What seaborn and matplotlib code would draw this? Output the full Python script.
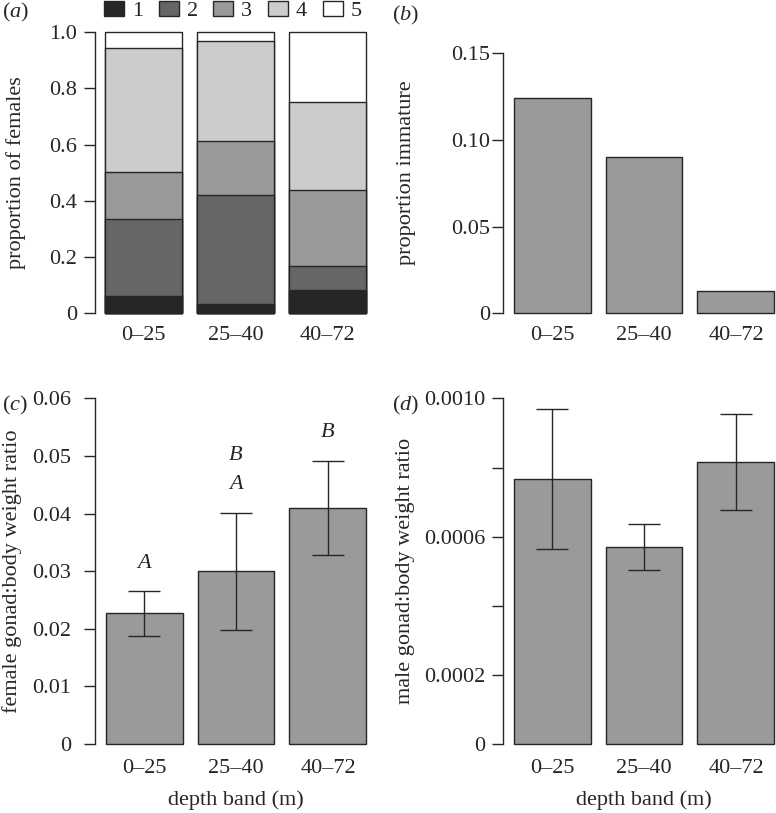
import numpy as np
import pandas as pd
import matplotlib
matplotlib.use('Agg')
import matplotlib.pyplot as plt
import seaborn as sns
from matplotlib.patches import Patch

sns.set_style('ticks')
plt.rcParams['font.family'] = ['Liberation Serif', 'DejaVu Serif']
plt.rcParams['mathtext.fontset'] = 'custom'
plt.rcParams['mathtext.rm'] = 'Liberation Serif'
plt.rcParams['mathtext.it'] = 'Liberation Serif:italic'
FS = 16
plt.rcParams['font.size'] = FS

# Data
depth_bands = ['0–25', '25–40', '40–72']

# (a) maturity stage proportions of females (stage 1 at bottom)
stage_labels = ['1', '2', '3', '4', '5']
stage1 = [0.062, 0.033, 0.083]
stage2 = [0.274, 0.388, 0.084]
stage3 = [0.167, 0.191, 0.272]
stage4 = [0.442, 0.356, 0.311]
stage5 = [0.055, 0.032, 0.250]
stage_colors = ['#262626', '#666666', '#999999', '#cccccc', '#ffffff']

# (b) proportion immature
prop_immature = [0.124, 0.090, 0.013]

# (c) female gonad:body weight ratio
female_ratio = [0.0227, 0.0300, 0.0410]
female_lo = [0.0188, 0.0198, 0.0328]
female_hi = [0.0265, 0.0401, 0.0492]
female_letters = [['A'], ['A', 'B'], ['B']]

# (d) male gonad:body weight ratio
male_ratio = [0.000766, 0.000571, 0.000817]
male_lo = [0.000563, 0.000504, 0.000678]
male_hi = [0.000969, 0.000637, 0.000955]

bar_grey = '#9a9a9a'
edge = '#262626'
bw = 0.837
W, H = 776, 813

fig = plt.figure(figsize=(W / 100, H / 100), dpi=100)


def make_ax(left_px, top_px, right_px, bottom_px):
    return fig.add_axes([left_px / W, 1 - bottom_px / H,
                         (right_px - left_px) / W, (bottom_px - top_px) / H])


ax_a = make_ax(94.5, 21, 376.5, 324.5)
ax_b = make_ax(503, 21, 785, 324.5)
ax_c = make_ax(95, 384.6, 377, 757.8)
ax_d = make_ax(503, 384.6, 785, 757.8)


def style(ax, ylim, ticks, labels, ypad, ylabel, label_x):
    ax.set_xlim(-0.533, 2.533)
    ax.set_ylim(*ylim)
    ax.set_yticks(ticks)
    ax.set_yticklabels(labels)
    sns.despine(ax=ax, bottom=True)
    ax.spines['left'].set_bounds(ticks[0], ticks[-1])
    ax.spines['left'].set_color(edge)
    ax.spines['left'].set_linewidth(1)
    ax.tick_params(axis='y', length=8, width=1, pad=ypad, color=edge, labelsize=FS)
    ax.tick_params(axis='x', length=0, pad=1, labelsize=FS)
    ax.set_xlabel('')
    ax.set_ylabel(ylabel, va='center', fontsize=FS)
    ax.yaxis.set_label_coords(label_x, 0.5)


# (a) stacked bars: draw cumulative totals from top down
stages = [stage1, stage2, stage3, stage4, stage5]
cum = np.cumsum(np.array(stages), axis=0)
for i in range(len(stages) - 1, -1, -1):
    sns.barplot(x=depth_bands, y=cum[i], color=stage_colors[i], saturation=1,
                edgecolor=edge, linewidth=1, width=bw, ax=ax_a)
style(ax_a, (-0.04, 1.04), [0, 0.2, 0.4, 0.6, 0.8, 1.0],
      ['0', '0.2', '0.4', '0.6', '0.8', '1.0'], 4.3,
      'proportion of females', -0.278)
handles = [Patch(facecolor=c, edgecolor=edge, linewidth=1) for c in stage_colors]
fig.legend(handles, stage_labels, ncol=5, frameon=False, loc='center left',
           bbox_to_anchor=(104 / W, 1 - 11 / H), borderpad=0, borderaxespad=0,
           handlelength=0.9, handleheight=0.68, handletextpad=0.36,
           columnspacing=0.7, fontsize=FS)

# (b)
sns.barplot(x=depth_bands, y=prop_immature, color=bar_grey, saturation=1,
            edgecolor=edge, linewidth=1, width=bw, ax=ax_b)
style(ax_b, (-0.0065, 0.1686), [0, 0.05, 0.10, 0.15], ['0', '0.05', '0.10', '0.15'],
      1.2, 'proportion immature', -0.342)

# (c)
xpos = np.arange(len(depth_bands))
sns.barplot(x=depth_bands, y=female_ratio, color=bar_grey, saturation=1,
            edgecolor=edge, linewidth=1, width=bw, ax=ax_c)
f = np.array(female_ratio)
ax_c.errorbar(xpos, f, yerr=[f - np.array(female_lo), np.array(female_hi) - f],
              fmt='none', ecolor=edge, elinewidth=1, capsize=11.5, capthick=1)
for x, hi, letters in zip(xpos, female_hi, female_letters):
    for k, letter in enumerate(letters):
        ax_c.text(x, hi + 0.0049 + k * 0.0051, letter, style='italic',
                  ha='center', va='center', fontsize=FS)
style(ax_c, (-0.0024, 0.0624), [0, 0.01, 0.02, 0.03, 0.04, 0.05, 0.06],
      ['0', '0.01', '0.02', '0.03', '0.04', '0.05', '0.06'], 9,
      'female gonad:body weight ratio', -0.293)
ax_c.set_xlabel('depth band (m)', labelpad=9, fontsize=FS)

# (d)
sns.barplot(x=depth_bands, y=male_ratio, color=bar_grey, saturation=1,
            edgecolor=edge, linewidth=1, width=bw, ax=ax_d)
m = np.array(male_ratio)
ax_d.errorbar(xpos, m, yerr=[m - np.array(male_lo), np.array(male_hi) - m],
              fmt='none', ecolor=edge, elinewidth=1, capsize=11.5, capthick=1)
style(ax_d, (-0.00004, 0.00104), [0, 0.0002, 0.0004, 0.0006, 0.0008, 0.0010],
      ['0', '0.0002', '', '0.0006', '', '0.0010'], 4.5,
      'male gonad:body weight ratio', -0.346)
ax_d.set_xlabel('depth band (m)', labelpad=9, fontsize=FS)

# panel letters
for lbl, x, y in [('a', 2, 12), ('b', 392, 15), ('c', 2, 405), ('d', 392, 405)]:
    fig.text(x / W, 1 - y / H, r'$(\mathit{' + lbl + r'})$', ha='left', va='center',
             fontsize=FS)

fig.savefig('out.png', dpi=100, facecolor='white')
